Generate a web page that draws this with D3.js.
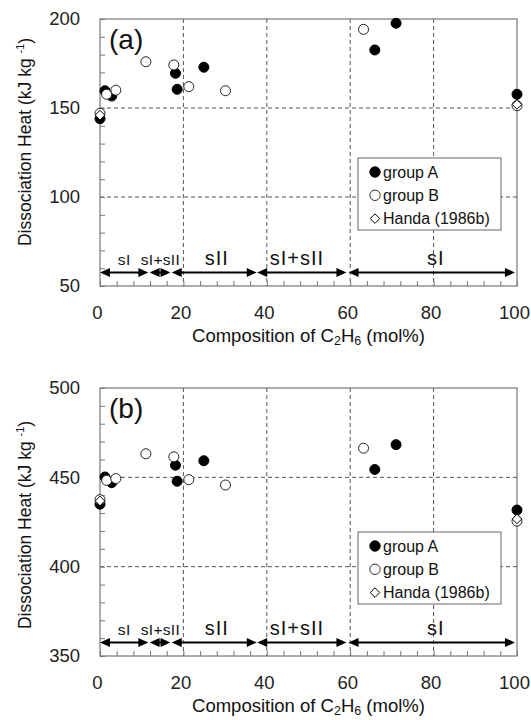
<!DOCTYPE html>
<html>
<head>
<meta charset="utf-8">
<script src="https://cdn.jsdelivr.net/npm/d3@7"></script>
<style>
  body { margin: 0; background: #fff; }
  svg { display: block; font-family: "Liberation Sans", Arial, sans-serif; }
</style>
</head>
<body>
<svg id="chart"></svg>
<script>
// composition of C2H6 (mol%) and dissociation heat
const compA = [0, 1.2, 2.8, 18.1, 18.5, 24.9, 65.9, 71, 100];
const heatA_a = [144, 159.7, 156.7, 169.5, 160.5, 172.9, 182.6, 197.6, 157.7];
const heatA_b = [435, 450.2, 447, 456.8, 447.8, 459.3, 454.4, 468.3, 431.7];

const compB = [0, 1.6, 3.8, 11, 17.7, 21.3, 30.1, 63.2, 100];
const heatB_a = [147, 157.7, 160, 176, 174.2, 162, 159.7, 194.2, 151.3];
const heatB_b = [437.5, 448.3, 449.3, 463.2, 461.5, 448.7, 445.7, 466.3, 425.5];

const handaComp = [0, 100];
const handa_a = [146, 152];
const handa_b = [436.8, 426.7];

// hydrate structure ranges along the composition axis
const phaseLabels = ["sI", "sI+sII", "sII", "sI+sII", "sI"];
const phaseFrom = [0, 11.9, 17.2, 37.7, 59.6];
const phaseTo = [11.6, 16.9, 37.6, 59.1, 99.5];
const phaseLabelX = [5.8, 14.5, 28, 47.2, 80.5];
const phaseBig = [false, false, true, true, true];

const legendNames = ["group A", "group B", "Handa (1986b)"];

const width = 531, height = 720;
const svg = d3.select("#chart").attr("width", width).attr("height", height);

const x = d3.scaleLinear().domain([0, 100]).range([100, 517]);

function zip(xs, ys) { return xs.map((v, i) => ({x: v, y: ys[i]})); }

function drawPanel(cfg) {
  const y = d3.scaleLinear().domain(cfg.yDomain).range([cfg.bottom, cfg.top]);
  const g = svg.append("g");

  // dashed grid
  g.selectAll(".vgrid")
    .data([20, 40, 60, 80])
    .join("line")
    .attr("x1", d => x(d)).attr("x2", d => x(d))
    .attr("y1", cfg.top).attr("y2", cfg.bottom)
    .attr("stroke", "#555").attr("stroke-width", 1)
    .attr("stroke-dasharray", "4,3");
  g.selectAll(".hgrid")
    .data(cfg.grid)
    .join("line")
    .attr("x1", x(0)).attr("x2", x(100))
    .attr("y1", d => y(d)).attr("y2", d => y(d))
    .attr("stroke", "#555").attr("stroke-width", 1)
    .attr("stroke-dasharray", "4,3");

  // axes with inward ticks
  const xAxis = g.append("g")
    .attr("transform", `translate(0,${cfg.bottom})`)
    .call(d3.axisBottom(x)
      .tickValues(d3.range(0, 101, 4))
      .tickSize(-5)
      .tickPadding(20)
      .tickFormat(d => d % 20 === 0 ? d : ""));
  xAxis.selectAll("text").attr("dx", -3);

  const yAxis = g.append("g")
    .attr("transform", `translate(${x(0)},0)`)
    .call(d3.axisLeft(y)
      .tickValues(d3.range(cfg.yDomain[0], cfg.yDomain[1] + 1, 10))
      .tickSize(-5)
      .tickPadding(20)
      .tickFormat(d => d % 50 === 0 ? d : ""));

  [xAxis, yAxis].forEach(a => {
    a.select(".domain").remove();
    a.selectAll("line").attr("stroke", "#777");
    a.selectAll("text").style("font-size", "18.5px").attr("fill", "#222");
  });

  g.append("rect")
    .attr("x", x(0)).attr("y", cfg.top)
    .attr("width", x(100) - x(0)).attr("height", cfg.bottom - cfg.top)
    .attr("fill", "none").attr("stroke", "#777").attr("stroke-width", 1.2);

  // structure arrows
  const ay = cfg.bottom - 13.5;
  const head = 10, hw = 4.6;
  phaseLabels.forEach((lab, i) => {
    const x0 = x(phaseFrom[i]), x1 = x(phaseTo[i]);
    g.append("line")
      .attr("x1", x0 + 4).attr("x2", x1 - 4)
      .attr("y1", ay).attr("y2", ay)
      .attr("stroke", "#000").attr("stroke-width", 2);
    g.append("path")
      .attr("d", `M${x0},${ay}L${x0 + head},${ay - hw}L${x0 + head},${ay + hw}Z`)
      .attr("fill", "#000");
    g.append("path")
      .attr("d", `M${x1},${ay}L${x1 - head},${ay - hw}L${x1 - head},${ay + hw}Z`)
      .attr("fill", "#000");
    g.append("text")
      .attr("x", x(phaseLabelX[i]))
      .attr("y", cfg.bottom - 21.5)
      .attr("text-anchor", "middle")
      .style("font-size", phaseBig[i] ? "20px" : "15.5px")
      .style("letter-spacing", phaseBig[i] ? "1px" : "0.3px")
      .attr("fill", "#111")
      .text(lab);
  });

  // legend
  const lx = 358, lw = 143, lh = 72, ly = cfg.top + cfg.legendOffset;
  g.append("rect")
    .attr("x", lx).attr("y", ly).attr("width", lw).attr("height", lh)
    .attr("fill", "#fff").attr("stroke", "#666").attr("stroke-width", 1);
  legendNames.forEach((name, i) => {
    const cy = ly + 14 + i * 23.3;
    const mx = lx + 17;
    if (i === 2) {
      g.append("path")
        .attr("d", d3.symbol(d3.symbolDiamond2, 58)())
        .attr("transform", `translate(${mx},${cy})`)
        .attr("fill", "#fff").attr("stroke", "#000").attr("stroke-width", 1);
    } else {
      g.append("circle")
        .attr("cx", mx).attr("cy", cy).attr("r", 5.2)
        .attr("fill", i === 0 ? "#000" : "#fff")
        .attr("stroke", i === 0 ? "#000" : "#333").attr("stroke-width", 1);
    }
    g.append("text")
      .attr("x", lx + 25).attr("y", cy + 5.6)
      .style("font-size", "16px").attr("fill", "#111")
      .text(name);
  });

  // data points
  g.selectAll(".ptA")
    .data(zip(compA, cfg.a))
    .join("circle")
    .attr("cx", d => x(d.x)).attr("cy", d => y(d.y)).attr("r", 5)
    .attr("fill", "#000").attr("stroke", "#000");
  g.selectAll(".ptB")
    .data(zip(compB, cfg.b))
    .join("circle")
    .attr("cx", d => x(d.x)).attr("cy", d => y(d.y)).attr("r", 5)
    .attr("fill", "#fff").attr("stroke", "#222").attr("stroke-width", 1);
  g.selectAll(".ptH")
    .data(zip(handaComp, cfg.h))
    .join("path")
    .attr("d", d3.symbol(d3.symbolDiamond2, 58)())
    .attr("transform", d => `translate(${x(d.x)},${y(d.y)})`)
    .attr("fill", "#fff").attr("stroke", "#000").attr("stroke-width", 1);

  // panel tag
  g.append("text")
    .attr("x", 109).attr("y", cfg.top + 30)
    .style("font-size", "28px").attr("fill", "#111")
    .text(cfg.tag);

  // axis titles
  const xt = g.append("text")
    .attr("x", (x(0) + x(100)) / 2).attr("y", cfg.bottom + 56)
    .attr("text-anchor", "middle")
    .style("font-size", "18.5px").attr("fill", "#111");
  xt.append("tspan").text("Composition of C");
  xt.append("tspan").attr("dy", 3).style("font-size", "12.5px").text("2");
  xt.append("tspan").attr("dy", -3).text("H");
  xt.append("tspan").attr("dy", 3).style("font-size", "12.5px").text("6");
  xt.append("tspan").attr("dy", -3).text(" (mol%)");

  const yt = g.append("text")
    .attr("transform", `translate(31,${cfg.yTitleY}) rotate(-90)`)
    .attr("text-anchor", "middle")
    .style("font-size", "17.5px").attr("fill", "#111");
  yt.append("tspan").text("Dissociation Heat (kJ kg ");
  yt.append("tspan").attr("dy", -7).style("font-size", "11px").text("-1");
  yt.append("tspan").attr("dy", 7).text(")");
}

drawPanel({top: 19, bottom: 286, yDomain: [50, 200], grid: [100, 150],
  a: heatA_a, b: heatB_a, h: handa_a, tag: "(a)", legendOffset: 139, yTitleY: 142});
drawPanel({top: 388, bottom: 656, yDomain: [350, 500], grid: [400, 450],
  a: heatA_b, b: heatB_b, h: handa_b, tag: "(b)", legendOffset: 144, yTitleY: 525});
</script>
</body>
</html>
